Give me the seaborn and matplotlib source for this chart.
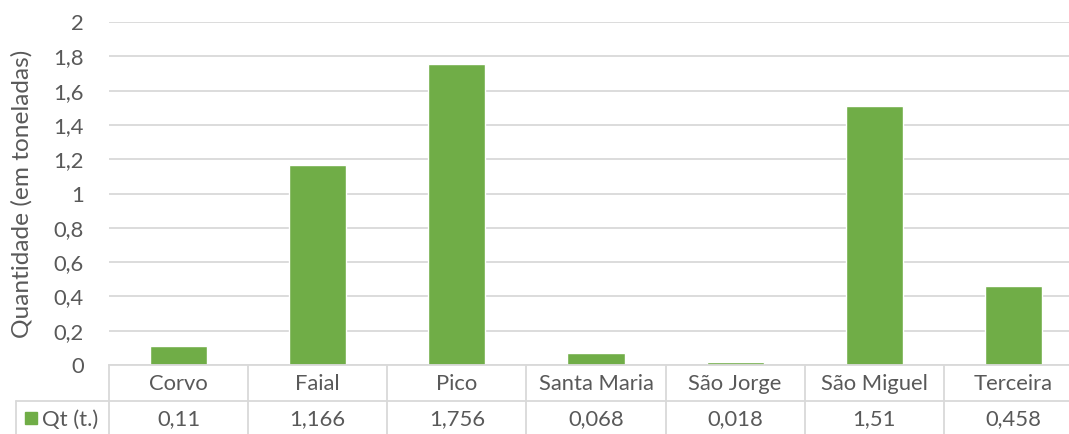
"""
Quantidade por ilha (em toneladas) - bar chart with Excel-style data table
"""

import matplotlib
matplotlib.use("Agg")
import matplotlib.pyplot as plt
import matplotlib.transforms as mtransforms
import seaborn as sns
import pandas as pd

# Data
islands = ["Corvo", "Faial", "Pico", "Santa Maria", "São Jorge", "São Miguel", "Terceira"]
quantities = [0.11, 1.166, 1.756, 0.068, 0.018, 1.51, 0.458]
value_labels = ["0,11", "1,166", "1,756", "0,068", "0,018", "1,51", "0,458"]
y_ticks = [0, 0.2, 0.4, 0.6, 0.8, 1, 1.2, 1.4, 1.6, 1.8, 2]
y_tick_labels = ["0", "0,2", "0,4", "0,6", "0,8", "1", "1,2", "1,4", "1,6", "1,8", "2"]
series_name = "Qt (t.)"
y_label = "Quantidade (em toneladas)"

BAR_COLOR = "#70AD47"
TEXT_COLOR = "#595959"
GRID_COLOR = "#D9D9D9"
FONT_SIZE = 15.8
TITLE_SIZE = 17.6

sns.set_style("white")
plt.rcParams["font.family"] = ["Lato", "DejaVu Sans"]

W, H = 1069, 434
fig = plt.figure(figsize=(W / 100, H / 100), dpi=100)

# plot area in pixel coords (it runs slightly past the right edge of the image)
left_px, right_px, top_px, bottom_px = 109, 1083, 22, 365
ax = fig.add_axes([left_px / W, 1 - bottom_px / H,
                   (right_px - left_px) / W, (bottom_px - top_px) / H])

df = pd.DataFrame({"island": islands, "qt": quantities})
sns.barplot(data=df, x="island", y="qt", color=BAR_COLOR, saturation=1,
            width=0.41, ax=ax)

ax.set_xlim(-0.5, len(islands) - 0.5)
ax.set_ylim(0, 2)
ax.set_yticks(y_ticks)
ax.set_yticklabels(y_tick_labels, color=TEXT_COLOR, fontsize=FONT_SIZE)
ax.tick_params(axis="y", length=0, pad=18)
ax.set_xticks([])
ax.set_xlabel("")
ax.set_ylabel("")
ax.yaxis.grid(True, color=GRID_COLOR, linewidth=1.3)
ax.set_axisbelow(True)
for side in ["top", "right", "left"]:
    ax.spines[side].set_visible(False)
ax.spines["bottom"].set_color(GRID_COLOR)
ax.spines["bottom"].set_linewidth(1.3)

fig.text(22 / W, 1 - 194 / H, y_label, rotation=90, ha="center", va="center",
         color=TEXT_COLOR, fontsize=TITLE_SIZE)

# data table under the axis: x in data coords, y in pixel-based figure coords
trans = mtransforms.blended_transform_factory(ax.transData, fig.transFigure)
fig_trans = fig.transFigure


def fy(py):
    return 1 - py / H


row_split_px = 401
line_kw = dict(color=GRID_COLOR, linewidth=1.3, clip_on=False)

# horizontal line between category row and value row
fig.add_artist(plt.Line2D([16 / W, right_px / W], [fy(row_split_px)] * 2,
                          transform=fig_trans, **line_kw))
# vertical separators
for i in range(len(islands) + 1):
    fig.add_artist(plt.Line2D([i - 0.5, i - 0.5], [fy(bottom_px), fy(H)],
                              transform=trans, **line_kw))
fig.add_artist(plt.Line2D([16 / W, 16 / W], [fy(row_split_px), fy(H)],
                          transform=fig_trans, **line_kw))

for i, (name, lab) in enumerate(zip(islands, value_labels)):
    fig.text(i, fy((bottom_px + row_split_px) / 2 + 1), name, transform=trans,
             ha="center", va="center", color=TEXT_COLOR, fontsize=FONT_SIZE)
    fig.text(i, fy((row_split_px + H) / 2 + 2), lab, transform=trans,
             ha="center", va="center", color=TEXT_COLOR, fontsize=FONT_SIZE)

# legend key in the table header cell
fig.add_artist(plt.Rectangle((25 / W, fy(424)), 12 / W, 12 / H,
                             transform=fig_trans, color=BAR_COLOR))
fig.text(42 / W, fy((row_split_px + H) / 2 + 2), series_name, ha="left",
         va="center", color=TEXT_COLOR, fontsize=FONT_SIZE)

fig.savefig("out.png", dpi=100, facecolor="white")
